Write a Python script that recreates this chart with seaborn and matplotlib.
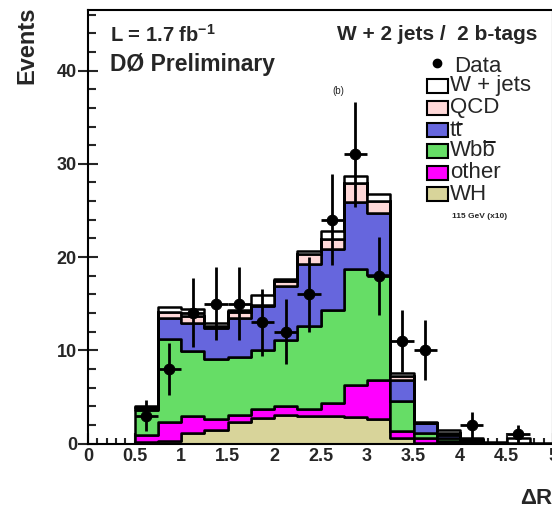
import numpy as np
import pandas as pd
import seaborn as sns
import matplotlib
matplotlib.use("Agg")
import matplotlib.pyplot as plt
from matplotlib.patches import Rectangle
from matplotlib.lines import Line2D
from matplotlib.ticker import MultipleLocator

# ---------------- data ----------------
bin_edges = [0.5, 0.75, 1.0, 1.25, 1.5, 1.75, 2.0, 2.25, 2.5, 2.75, 3.0,
             3.25, 3.5, 3.75, 4.0, 4.25, 4.5, 4.75, 5.0]
bin_centers = [0.625, 0.875, 1.125, 1.375, 1.625, 1.875, 2.125, 2.375, 2.625,
               2.875, 3.125, 3.375, 3.625, 3.875, 4.125, 4.375, 4.625, 4.875]

wh    = [0.15, 0.3, 1.1, 1.5, 2.3, 2.75, 3.1, 3.0, 3.0, 2.85, 2.65, 0.6, 0.1, 0.05, 0.0, 0.0, 0.0, 0.0]
other = [0.75, 2.0, 1.8, 1.1, 0.8, 0.95, 0.9, 0.65, 1.3, 3.4, 4.15, 0.7, 0.45, 0.2, 0.05, 0.0, 0.0, 0.0]
wbb   = [2.65, 8.95, 7.0, 6.5, 6.2, 6.3, 7.1, 8.95, 10.05, 12.45, 11.25, 3.3, 0.6, 0.35, 0.15, 0.05, 0.05, 0.0]
ttbar = [0.3, 2.25, 3.05, 3.3, 4.2, 4.8, 5.8, 6.65, 6.5, 7.25, 6.65, 2.25, 1.0, 0.35, 0.15, 0.05, 0.05, 0.0]
qcd   = [0.05, 0.6, 0.75, 0.2, 0.6, 0.1, 0.5, 1.1, 1.1, 1.95, 1.3, 0.35, 0.05, 0.2, 0.05, 0.0, 0.0, 0.0]
wjets = [0.15, 0.5, 0.7, 0.3, 0.2, 1.0, 0.2, 0.35, 0.85, 0.8, 0.8, 0.4, 0.15, 0.35, 0.2, 0.1, 0.5, 0.05]

data_x    = [0.625, 0.875, 1.125, 1.375, 1.625, 1.875, 2.125, 2.375, 2.625,
             2.875, 3.125, 3.375, 3.625, 4.125, 4.625]
data_y    = [3, 8, 14, 15, 15, 13, 12, 16, 24, 31, 18, 11, 10, 2, 1]
data_yerr = [1.7, 2.8, 3.7, 3.9, 3.9, 3.6, 3.5, 4.0, 4.9, 5.6, 4.2, 3.3, 3.2, 1.4, 1.0]
data_xerr = [0.125] * len(data_x)

# seaborn stacks the first hue level on top, so list top -> bottom
proc_names = ["W + jets", "QCD", "tt", "Wbb", "other", "WH"]
proc_vals = [wjets, qcd, ttbar, wbb, other, wh]
proc_colors = ["#ffffff", "#ffd8d8", "#6666dd", "#66dd66", "#ff00ff", "#d8d49a"]

y_ticks = [0, 10, 20, 30, 40]
x_ticks = [0, 0.5, 1, 1.5, 2, 2.5, 3, 3.5, 4, 4.5, 5]
x_tick_labels = ["0", "0.5", "1", "1.5", "2", "2.5", "3", "3.5", "4", "4.5", "5"]

# ---------------- style ----------------
sns.set_theme(style="white")
plt.rcParams['font.family'] = ['Liberation Sans', 'DejaVu Sans']
plt.rcParams['mathtext.fontset'] = 'custom'
plt.rcParams['mathtext.rm'] = 'Liberation Sans'
plt.rcParams['mathtext.bf'] = 'Liberation Sans:bold'
plt.rcParams['mathtext.it'] = 'Liberation Sans:italic'

W, H = 552, 514
fig = plt.figure(figsize=(W / 100, H / 100), dpi=100)
fig.patch.set_facecolor("white")

def fx(x):
    return x / W

def fy(y):
    return 1 - y / H

ax = fig.add_axes([fx(88), fy(443.5), fx(553) - fx(88), fy(10) - fy(443.5)])
ax.set_facecolor("white")

rows = []
for name, vals in zip(proc_names, proc_vals):
    for c, v in zip(bin_centers, vals):
        rows.append({"x": c, "w": v, "proc": name})
df = pd.DataFrame(rows)

sns.histplot(data=df, x="x", weights="w", hue="proc", hue_order=proc_names,
             bins=bin_edges, multiple="stack", element="step",
             palette=dict(zip(proc_names, proc_colors)), alpha=1,
             edgecolor="black", linewidth=1.8, legend=False, ax=ax)

ax.errorbar(data_x, data_y, xerr=data_xerr, yerr=data_yerr, fmt='none',
            ecolor='black', elinewidth=2.0, capsize=0, zorder=6)
sns.scatterplot(x=data_x, y=data_y, color='black', s=60, edgecolor='black',
                zorder=7, legend=False, ax=ax)

ax.set_xlim(0, 5)
ax.set_ylim(0, 46.5)
ax.set_xlabel("")
ax.set_ylabel("")
ax.set_xticks(x_ticks)
ax.set_xticklabels(x_tick_labels)
ax.set_yticks(y_ticks)
ax.xaxis.set_minor_locator(MultipleLocator(0.1))
ax.yaxis.set_minor_locator(MultipleLocator(2))
ax.tick_params(axis='x', which='major', direction='in', length=8, width=1.5,
               labelsize=13, pad=3, bottom=True, top=False)
ax.tick_params(axis='x', which='minor', direction='in', length=4.5, width=1.5,
               bottom=True, top=False)
ax.tick_params(axis='y', which='major', direction='inout', length=14, width=1.5,
               labelsize=13, pad=1, left=True, right=False)
ax.tick_params(axis='y', which='minor', direction='in', length=6, width=1.5,
               left=True, right=False)
for lab in ax.get_xticklabels() + ax.get_yticklabels():
    lab.set_fontweight('bold')
for sp in ax.spines.values():
    sp.set_linewidth(1.5)
    sp.set_color('black')

# axis titles
fig.text(fx(27), fy(6), "Events", rotation=90, ha='center', va='top',
         fontsize=17, fontweight='bold')
fig.text(fx(520), fy(498), r"$\mathbf{\Delta}$R", ha='left', va='center',
         fontsize=16, fontweight='bold')

# annotations
fig.text(fx(110), fy(35), r"L = 1.7 fb$^{\mathbf{-1}}$", ha='left', va='center',
         fontsize=14.5, fontweight='bold')
fig.text(fx(110), fy(64), "DØ Preliminary", ha='left', va='center',
         fontsize=16.5, fontweight='bold')
fig.text(fx(537), fy(35), "W + 2 jets /  2 b-tags", ha='right', va='center',
         fontsize=15, fontweight='bold')
fig.text(fx(338), fy(91), "(b)", ha='center', va='center', fontsize=7)

# legend
fig.add_artist(Line2D([fx(437)], [fy(63)], marker='o', color='black',
                      markersize=6, transform=fig.transFigure))
fig.text(fx(454), fy(66), "Data", ha='left', va='center', fontsize=16)
leg_labels = ["W + jets", "QCD", "tt", "Wbb", "other", "WH"]
leg_bar_char = [None, None, "t", "b", None, None]
leg_colors = ["#ffffff", "#ffd8d8", "#6666dd", "#66dd66", "#ff00ff", "#d8d49a"]
leg_rows = [86, 107.5, 130, 150.5, 172.5, 194]
leg_texts = []
for lab, col, yc in zip(leg_labels, leg_colors, leg_rows):
    fig.add_artist(Rectangle((fx(427), fy(yc + 7)), fx(448) - fx(427),
                             fy(yc - 7) - fy(yc + 7), transform=fig.transFigure,
                             facecolor=col, edgecolor='black', linewidth=1.5))
    leg_texts.append(fig.text(fx(450), fy(yc), lab, ha='left', va='center',
                              fontsize=16))
fig.text(fx(452), fy(217), "115 GeV (x10)", ha='left', va='center',
         fontsize=6, fontweight='bold')

# overbars for t-bar and b-bar (anti-particles)
fig.canvas.draw()
renderer = fig.canvas.get_renderer()
for t, ch in zip(leg_texts, leg_bar_char):
    if ch is None:
        continue
    bb = t.get_window_extent(renderer)
    tmp = fig.text(0, 0, ch, fontsize=16)
    wch = tmp.get_window_extent(renderer).width
    tmp.remove()
    x1 = bb.x1 - 1.0
    x0 = bb.x1 - wch + 1.0
    ybar = bb.y0 + (19.0 if ch == "b" else 16.5)
    fig.add_artist(Line2D([x0 / W, x1 / W], [ybar / H, ybar / H], color='black',
                          linewidth=1.3, transform=fig.transFigure))

fig.savefig("out.png", dpi=100, facecolor="white")
